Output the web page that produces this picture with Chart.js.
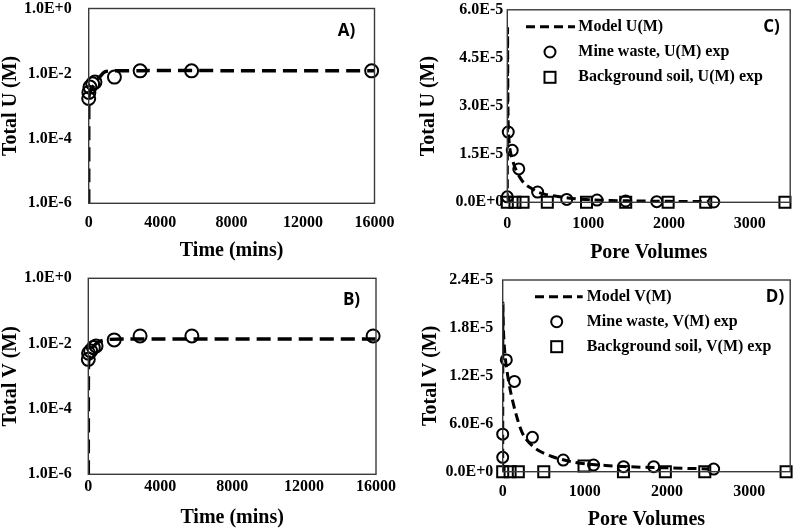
<!DOCTYPE html>
<html lang="en">
<head>
<meta charset="UTF-8">
<title>Total U and V - batch and column</title>
<script src="https://cdn.jsdelivr.net/npm/chart.js"></script>
<style>
  html, body { margin: 0; padding: 0; background: #fff; }
  #wrap { position: relative; width: 800px; height: 530px; overflow: hidden; }
  .panel { position: absolute; width: 400px; height: 265px; }
</style>
</head>
<body>
<div id="wrap">
  <div class="panel" style="left:0;top:0"><canvas id="chartA"></canvas></div>
  <div class="panel" style="left:0;top:265px"><canvas id="chartB"></canvas></div>
  <div class="panel" style="left:400px;top:0"><canvas id="chartC"></canvas></div>
  <div class="panel" style="left:400px;top:265px"><canvas id="chartD"></canvas></div>
</div>
<script>
// ---- data ----
// A) batch, total U vs time
var timeExpA = [0, 10, 70, 220, 350, 1440, 2880, 5760, 15840];
var uExpA = [1.7e-3, 2.6e-3, 3.8e-3, 4.8e-3, 5.4e-3, 7.7e-3, 1.2e-2, 1.2e-2, 1.2e-2];
var timeModelA = [0, 5, 50, 150, 300, 450, 650, 900, 1400, 3000, 8000, 16000];
var uModelA = [1e-6, 1.6e-3, 2.5e-3, 3.3e-3, 4.5e-3, 6e-3, 8.2e-3, 1.12e-2, 1.2e-2, 1.22e-2, 1.22e-2, 1.22e-2];

// B) batch, total V vs time
var timeExpB = [0, 15, 130, 280, 430, 1440, 2880, 5760, 15840];
var vExpB = [3.3e-3, 5.1e-3, 6e-3, 7.6e-3, 8.5e-3, 1.3e-2, 1.72e-2, 1.72e-2, 1.72e-2];
var timeModelB = [0, 5, 40, 100, 200, 350, 550, 800, 1200, 2000, 16000];
var vModelB = [1e-6, 1.8e-3, 3.5e-3, 5e-3, 7e-3, 9e-3, 1.1e-2, 1.25e-2, 1.35e-2, 1.39e-2, 1.39e-2];

// C) column, total U vs pore volumes
var pvModelC = [0, 3, 10, 25, 50, 93, 150, 214, 300, 375, 500, 660, 850, 1060, 1500, 2000, 2500];
var uModelC = [0, 5.4e-5, 2.6e-5, 1.8e-5, 1.45e-5, 1.1e-5, 8e-6, 5.8e-6, 4.3e-6, 3.2e-6, 2.3e-6, 1.7e-6, 1.1e-6, 7.5e-7, 4.5e-7, 3e-7, 2e-7];
var pvMineC = [0, 12, 61, 142, 375, 735, 1110, 1465, 1849, 2554];
var uMineC = [1.7e-6, 2.19e-5, 1.62e-5, 1.04e-5, 3.2e-6, 9e-7, 7e-7, 4e-7, 2e-7, 1e-7];
var pvSoilC = [0, 95, 195, 495, 980, 1465, 1990, 2455, 3435];
var uSoilC = [0, 0, 0, 0, 0, 0, 0, 0, 0];

// D) column, total V vs pore volumes
var pvModelD = [0, 3, 10, 25, 44, 92, 182, 262, 401, 598, 836, 1034, 1470, 2000, 2500];
var vModelD = [0, 2.1e-5, 1.75e-5, 1.5e-5, 1.32e-5, 1.02e-5, 6.5e-6, 4.4e-6, 2.9e-6, 1.9e-6, 1.25e-6, 9.6e-7, 6.5e-7, 4.8e-7, 3.5e-7];
var pvMineD = [0, 0, 44, 143, 362, 737, 1106, 1471, 1838, 2568];
var vMineD = [1.8e-6, 4.7e-6, 1.4e-5, 1.13e-5, 4.3e-6, 1.46e-6, 8.4e-7, 6.3e-7, 6.3e-7, 3.3e-7];
var pvSoilD = [0, 90, 190, 500, 990, 1470, 1980, 2460, 3450];
var vSoilD = [0, 0, 0, 0, 7e-7, 0, 0, 0, 0];

// tick values
var timeTicks = [0, 4000, 8000, 12000, 16000];
var logTicks = [1e-6, 1e-4, 1e-2, 1];
var pvTicks = [0, 1000, 2000, 3000];
var uTicksC = [0, 1.5e-5, 3e-5, 4.5e-5, 6e-5];
var vTicksD = [0, 6e-6, 1.2e-5, 1.8e-5, 2.4e-5];

function pairs(xs, ys) {
    return xs.map(function(x, i) { return { x: x, y: ys[i] }; });
}
function sci(v) {
    return Number(v).toExponential(1).toUpperCase();
}

var SERIF = '"Liberation Serif", "Times New Roman", serif';

// box, panel letter and in-plot legend
Chart.register({
    id: 'panelDeco',
    afterDatasetsDraw: function(chart, args, o) {
        var ctx = chart.ctx, a = chart.chartArea;
        ctx.save();
        ctx.strokeStyle = '#3a3a3a';
        ctx.lineWidth = 1.4;
        ctx.strokeRect(a.left, a.top, a.right - a.left, a.bottom - a.top);

        ctx.fillStyle = '#000';
        ctx.font = 'bold 17px "Open Sans", sans-serif';
        ctx.textAlign = 'center';
        ctx.textBaseline = 'middle';
        ctx.fillText(o.letter, o.letterX, o.letterY);

        if (o.legend) {
            var L = o.legend, ds = chart.data.datasets;
            ctx.strokeStyle = '#000';
            ctx.lineWidth = 3;
            ctx.setLineDash([9, 5]);
            ctx.beginPath();
            ctx.moveTo(L.lineX1, L.y0);
            ctx.lineTo(L.lineX2, L.y0);
            ctx.stroke();
            ctx.setLineDash([]);
            ctx.lineWidth = 2;
            ctx.beginPath();
            ctx.arc(L.markX, L.y0 + L.dy, 5.5, 0, Math.PI * 2);
            ctx.stroke();
            ctx.strokeRect(L.markX - 5.5, L.y0 + 2 * L.dy - 5.5, 11, 11);
            ctx.font = 'bold 16px ' + SERIF;
            ctx.textAlign = 'left';
            for (var i = 0; i < 3; i++) {
                ctx.fillText(ds[i].label, L.textX, L.y0 + i * L.dy);
            }
        }
        ctx.restore();
    }
});

function makeChart(id, p) {
    var tickFont = { family: SERIF, weight: 'bold', size: 16 };
    var titleFont = { family: SERIF, weight: 'bold', size: 20, lineHeight: 1.05 };
    return new Chart(document.getElementById(id), {
        type: 'scatter',
        data: { datasets: p.datasets },
        options: {
            responsive: true,
            maintainAspectRatio: false,
            animation: false,
            events: [],
            layout: { padding: { left: p.padL, right: p.padR, top: p.padT, bottom: 0 } },
            plugins: {
                legend: { display: false },
                tooltip: { enabled: false },
                panelDeco: p.deco
            },
            scales: {
                x: {
                    type: 'linear',
                    min: p.xMin, max: p.xMax,
                    grid: { display: false, drawTicks: false },
                    border: { display: false },
                    ticks: { font: tickFont, color: '#000', padding: p.xTickPad, maxRotation: 0,
                             callback: function(v) { return String(v); } },
                    afterBuildTicks: function(s) { s.ticks = p.xTicks.map(function(v) { return { value: v }; }); },
                    afterFit: function(s) { s.height = p.xH; s.paddingLeft = 0; s.paddingRight = 0; },
                    title: { display: true, text: p.xTitle, font: titleFont, color: '#000',
                             padding: { top: 0, bottom: p.xTitlePad } }
                },
                y: {
                    type: p.yType,
                    min: p.yMin, max: p.yMax,
                    grid: { display: false, drawTicks: false },
                    border: { display: false },
                    ticks: { font: tickFont, color: '#000', padding: p.yTickPad,
                             callback: function(v) { return sci(v); } },
                    afterBuildTicks: function(s) { s.ticks = p.yTicks.map(function(v) { return { value: v }; }); },
                    afterFit: function(s) { s.width = p.yW; s.paddingTop = 0; s.paddingBottom = 0; },
                    title: { display: true, text: p.yTitle, font: titleFont, color: '#000',
                             padding: { top: 0, bottom: 0 } }
                }
            }
        }
    });
}

function modelSet(label, xs, ys, width, dash) {
    return {
        label: label, data: pairs(xs, ys), showLine: true,
        borderColor: '#000', borderWidth: width, borderDash: dash,
        pointRadius: 0, fill: false, tension: 0.3, clip: 0, order: 2
    };
}
function markSet(label, xs, ys, style, r) {
    return {
        label: label, data: pairs(xs, ys), showLine: false,
        pointStyle: style, pointRadius: r, borderWidth: 2,
        borderColor: '#000', backgroundColor: 'rgba(0,0,0,0)', clip: false, order: 1
    };
}

makeChart('chartA', {
    datasets: [
        modelSet('Model U(M)', timeModelA, uModelA, 3.5, [14, 7]),
        markSet('U(M) exp', timeExpA, uExpA, 'circle', 6.5)
    ],
    padL: 0, padR: 25.5, padT: 8, yW: 88.7, xH: 61.7,
    xMin: 0, xMax: 16000, xTicks: timeTicks, xTitle: 'Time (mins)', xTickPad: 9.5, xTitlePad: 4,
    yType: 'logarithmic', yMin: 1e-6, yMax: 1, yTicks: logTicks, yTitle: 'Total U (M)', yTickPad: 17,
    deco: { letter: 'A)', letterX: 346.5, letterY: 31 }
});

makeChart('chartB', {
    datasets: [
        modelSet('Model V(M)', timeModelB, vModelB, 3.5, [14, 7]),
        markSet('V(M) exp', timeExpB, vExpB, 'circle', 6.5)
    ],
    padL: 0, padR: 24, padT: 13.3, yW: 88.3, xH: 55.7,
    xMin: 0, xMax: 16000, xTicks: timeTicks, xTitle: 'Time (mins)', xTickPad: 3, xTitlePad: 2,
    yType: 'logarithmic', yMin: 1e-6, yMax: 1, yTicks: logTicks, yTitle: 'Total V (M)', yTickPad: 16.5,
    deco: { letter: 'B)', letterX: 351.5, letterY: 35 }
});

makeChart('chartC', {
    datasets: [
        modelSet('Model U(M)', pvModelC, uModelC, 3, [9, 5]),
        markSet('Mine waste, U(M) exp', pvMineC, uMineC, 'circle', 5.5),
        markSet('Background soil, U(M) exp', pvSoilC, uSoilC, 'rect', 7.8)
    ],
    padL: 18, padR: 3.3, padT: 6, yW: 89.3, xH: 62.7,
    xMin: 0, xMax: 3500, xTicks: pvTicks, xTitle: 'Pore Volumes', xTickPad: 11.5, xTitlePad: 2,
    yType: 'linear', yMin: 0, yMax: 6e-5, yTicks: uTicksC, yTitle: 'Total U (M)', yTickPad: 4,
    deco: { letter: 'C)', letterX: 371.5, letterY: 26.7,
            legend: { lineX1: 126, lineX2: 175, markX: 150, textX: 178.3, y0: 26.7, dy: 25.3 } }
});

makeChart('chartD', {
    datasets: [
        modelSet('Model V(M)', pvModelD, vModelD, 3, [9, 5]),
        markSet('Mine waste, V(M) exp', pvMineD, vMineD, 'circle', 5.5),
        markSet('Background soil, V(M) exp', pvSoilD, vSoilD, 'rect', 7.8)
    ],
    padL: 20, padR: 2.7, padT: 15, yW: 82.7, xH: 58.3,
    xMin: 0, xMax: 3500, xTicks: pvTicks, xTitle: 'Pore Volumes', xTickPad: 10.5, xTitlePad: 0,
    yType: 'linear', yMin: 0, yMax: 2.4e-5, yTicks: vTicksD, yTitle: 'Total V (M)', yTickPad: 9.4,
    deco: { letter: 'D)', letterX: 375, letterY: 31.7,
            legend: { lineX1: 135, lineX2: 182.7, markX: 156.7, textX: 186.7, y0: 31.7, dy: 25 } }
});
</script>
</body>
</html>
